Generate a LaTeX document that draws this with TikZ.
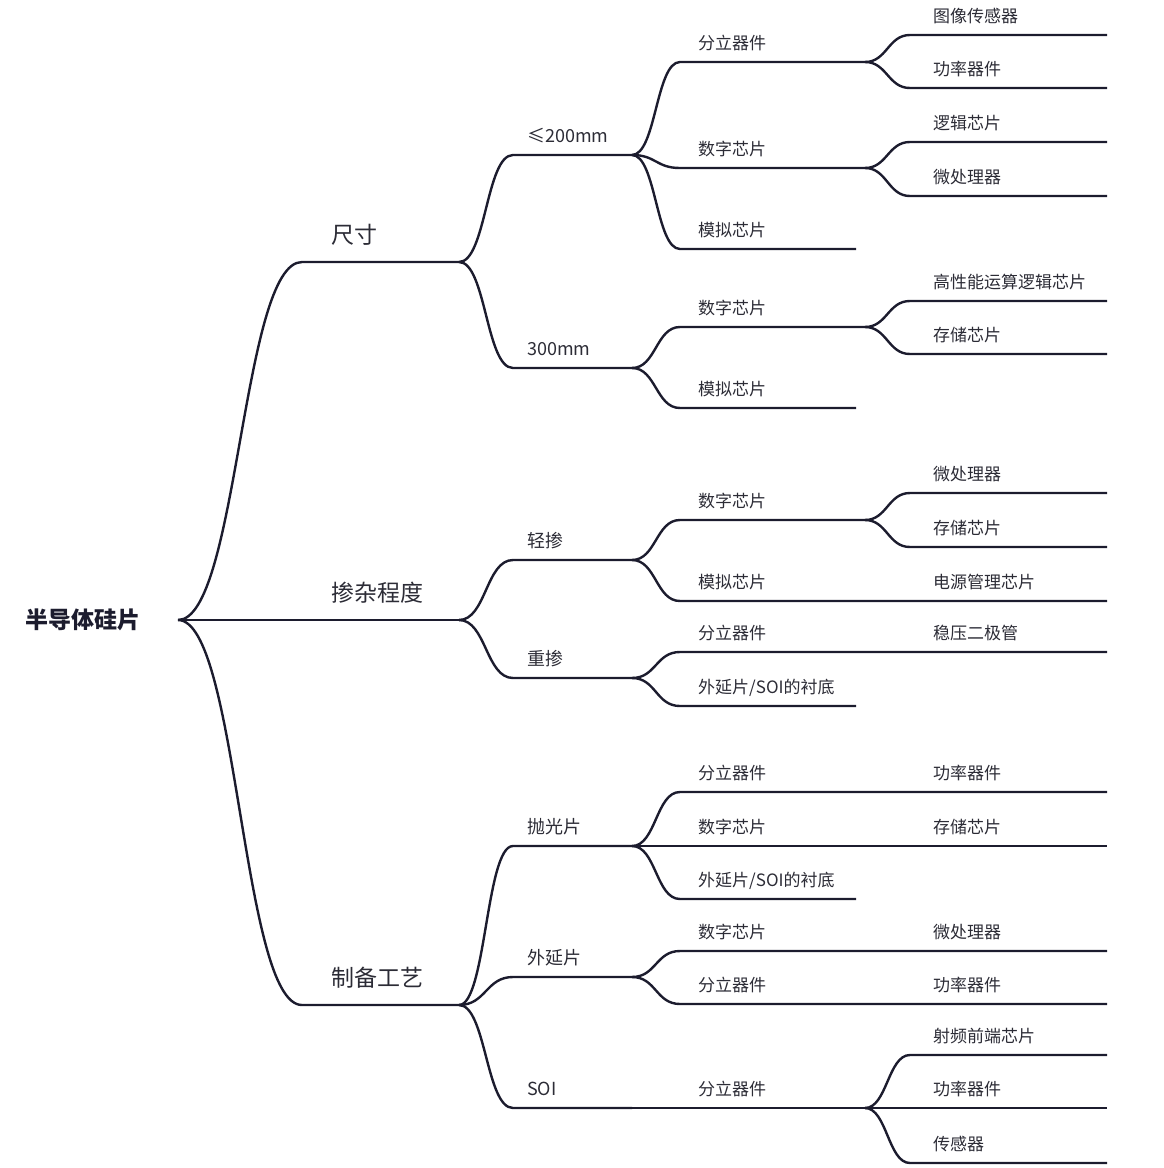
\documentclass[tikz,border=0pt]{standalone}
\usepackage{fontspec}
\newfontfamily\cjk{Noto Sans CJK SC}
\usetikzlibrary{positioning,calc}
\definecolor{inkline}{RGB}{28,28,46}
\definecolor{inktext}{RGB}{44,44,54}

\begin{document}
\begin{tikzpicture}[
    x=1pt, y=-1pt,
    rootlbl/.style={font=\cjk\bfseries\fontsize{23}{26}\selectfont, text=inkline, inner sep=0pt, anchor=west},
    lbl1/.style={font=\cjk\fontsize{23}{26}\selectfont, text=inktext, inner sep=0pt, anchor=base west},
    lbl2/.style={font=\cjk\fontsize{18}{21}\selectfont, text=inktext, inner sep=0pt, anchor=base west},
    lbl/.style={font=\cjk\fontsize{17}{20}\selectfont, text=inktext, inner sep=0pt, anchor=base west},
    line/.style={draw=inkline, line width=2.4pt},
    limb1/.style={line, out=0, in=180, distance=60pt},
    limb2/.style={line, out=0, in=180, distance=27pt},
    limb3/.style={line, out=0, in=180, distance=24pt},
    limb4/.style={line, out=0, in=180, distance=22pt}
]
    \useasboundingbox (0,0) rectangle (1164,1168);

    % Root
    \node [rootlbl] (root) at (25,620) {半导体硅片};
    \coordinate (hub) at (178,620);

    % Level 1
    \coordinate (size-s) at (302,262);  \coordinate (size-e) at (459,262);
    \coordinate (dope-e) at (459,620);
    \coordinate (proc-s) at (302,1005); \coordinate (proc-e) at (459,1005);
    \node [lbl1] (size) at (331,243) {尺寸};
    \node [lbl1] (dope) at (331,601) {掺杂程度};
    \node [lbl1] (proc) at (331,986) {制备工艺};

    % Level 2
    \coordinate (s200-s) at (513,155);   \coordinate (s200-e) at (632,155);
    \coordinate (s300-s) at (513,368);   \coordinate (s300-e) at (632,368);
    \coordinate (light-s) at (513,560);  \coordinate (light-e) at (632,560);
    \coordinate (heavy-s) at (513,678);  \coordinate (heavy-e) at (632,678);
    \coordinate (polish-s) at (513,846); \coordinate (polish-e) at (632,846);
    \coordinate (epi-s) at (513,977);    \coordinate (epi-e) at (632,977);
    \coordinate (soi-s) at (513,1108);   \coordinate (soi-e) at (632,1108);
    \node [lbl2] (s200) at (527,142) {≤200mm};
    \node [lbl2] (s300) at (527,355) {300mm};
    \node [lbl2] (light) at (527,547) {轻掺};
    \node [lbl2] (heavy) at (527,665) {重掺};
    \node [lbl2] (polish) at (527,833) {抛光片};
    \node [lbl2] (epi) at (527,964) {外延片};
    \node [lbl2] (soi) at (527,1095) {SOI};

    % Level 3
    \coordinate (s200disc-s) at (680,62);    \coordinate (s200disc-e) at (865,62);
    \coordinate (s200dig-s) at (680,168);    \coordinate (s200dig-e) at (865,168);
    \coordinate (s200ana-s) at (680,249);    \coordinate (s200ana-e) at (856,249);
    \coordinate (s300dig-s) at (680,327);    \coordinate (s300dig-e) at (865,327);
    \coordinate (s300ana-s) at (680,408);    \coordinate (s300ana-e) at (856,408);
    \coordinate (lightdig-s) at (680,520);   \coordinate (lightdig-e) at (865,520);
    \coordinate (lightana-s) at (680,601);   \coordinate (lightana-e) at (1107,601);
    \coordinate (heavydisc-s) at (680,652);  \coordinate (heavydisc-e) at (1107,652);
    \coordinate (heavysub-s) at (680,706);   \coordinate (heavysub-e) at (856,706);
    \coordinate (polishdisc-s) at (680,792); \coordinate (polishdisc-e) at (1107,792);
    \coordinate (polishdig-s) at (680,846);  \coordinate (polishdig-e) at (1107,846);
    \coordinate (polishsub-s) at (680,899);  \coordinate (polishsub-e) at (856,899);
    \coordinate (epidig-s) at (680,951);     \coordinate (epidig-e) at (1107,951);
    \coordinate (epidisc-s) at (680,1004);   \coordinate (epidisc-e) at (1107,1004);
    \coordinate (soidisc-s) at (680,1108);   \coordinate (soidisc-e) at (865,1108);
    \node [lbl] (s200disc) at (698,49) {分立器件};
    \node [lbl] (s200dig) at (698,155) {数字芯片};
    \node [lbl] (s200ana) at (698,236) {模拟芯片};
    \node [lbl] (s300dig) at (698,314) {数字芯片};
    \node [lbl] (s300ana) at (698,395) {模拟芯片};
    \node [lbl] (lightdig) at (698,507) {数字芯片};
    \node [lbl] (lightana) at (698,588) {模拟芯片};
    \node [lbl] (heavydisc) at (698,639) {分立器件};
    \node [lbl] (heavysub) at (698,693) {外延片/SOI的衬底};
    \node [lbl] (polishdisc) at (698,779) {分立器件};
    \node [lbl] (polishdig) at (698,833) {数字芯片};
    \node [lbl] (polishsub) at (698,886) {外延片/SOI的衬底};
    \node [lbl] (epidig) at (698,938) {数字芯片};
    \node [lbl] (epidisc) at (698,991) {分立器件};
    \node [lbl] (soidisc) at (698,1095) {分立器件};

    % Leaves
    \coordinate (img-s) at (910,35);    \coordinate (img-e) at (1107,35);
    \coordinate (pow1-s) at (910,88);   \coordinate (pow1-e) at (1107,88);
    \coordinate (logic-s) at (910,142); \coordinate (logic-e) at (1107,142);
    \coordinate (mpu1-s) at (910,196);  \coordinate (mpu1-e) at (1107,196);
    \coordinate (hpc-s) at (910,301);   \coordinate (hpc-e) at (1107,301);
    \coordinate (mem1-s) at (910,354);  \coordinate (mem1-e) at (1107,354);
    \coordinate (mpu2-s) at (910,493);  \coordinate (mpu2-e) at (1107,493);
    \coordinate (mem2-s) at (910,547);  \coordinate (mem2-e) at (1107,547);
    \coordinate (rf-s) at (910,1055);   \coordinate (rf-e) at (1107,1055);
    \coordinate (pow4-e) at (1107,1108);
    \coordinate (sens-s) at (910,1163); \coordinate (sens-e) at (1107,1163);
    \node [lbl] (img) at (933,22) {图像传感器};
    \node [lbl] (pow1) at (933,75) {功率器件};
    \node [lbl] (logic) at (933,129) {逻辑芯片};
    \node [lbl] (mpu1) at (933,183) {微处理器};
    \node [lbl] (hpc) at (933,288) {高性能运算逻辑芯片};
    \node [lbl] (mem1) at (933,341) {存储芯片};
    \node [lbl] (mpu2) at (933,480) {微处理器};
    \node [lbl] (mem2) at (933,534) {存储芯片};
    \node [lbl] (pmic) at (933,588) {电源管理芯片};
    \node [lbl] (zener) at (933,639) {稳压二极管};
    \node [lbl] (pow2) at (933,779) {功率器件};
    \node [lbl] (mem3) at (933,833) {存储芯片};
    \node [lbl] (mpu3) at (933,938) {微处理器};
    \node [lbl] (pow3) at (933,991) {功率器件};
    \node [lbl] (rf) at (933,1042) {射频前端芯片};
    \node [lbl] (pow4) at (933,1095) {功率器件};
    \node [lbl] (sens) at (933,1150) {传感器};

    % Root branches
    \draw [limb1] (hub) to (size-s) -- (size-e);
    \draw [line] (hub) -- (dope-e);
    \draw [limb1] (hub) to (proc-s) -- (proc-e);

    % Level 2 branches
    \draw [limb2] (size-e) to (s200-s) -- (s200-e);
    \draw [limb2] (size-e) to (s300-s) -- (s300-e);
    \draw [limb2] (dope-e) to (light-s) -- (light-e);
    \draw [limb2] (dope-e) to (heavy-s) -- (heavy-e);
    \draw [limb2] (proc-e) to (polish-s) -- (polish-e);
    \draw [limb2] (proc-e) to (epi-s) -- (epi-e);
    \draw [limb2] (proc-e) to (soi-s) -- (soi-e);

    % Level 3 branches
    \draw [limb3] (s200-e) to (s200disc-s) -- (s200disc-e);
    \draw [limb3] (s200-e) to (s200dig-s) -- (s200dig-e);
    \draw [limb3] (s200-e) to (s200ana-s) -- (s200ana-e);
    \draw [limb3] (s300-e) to (s300dig-s) -- (s300dig-e);
    \draw [limb3] (s300-e) to (s300ana-s) -- (s300ana-e);
    \draw [limb3] (light-e) to (lightdig-s) -- (lightdig-e);
    \draw [limb3] (light-e) to (lightana-s) -- (lightana-e);
    \draw [limb3] (heavy-e) to (heavydisc-s) -- (heavydisc-e);
    \draw [limb3] (heavy-e) to (heavysub-s) -- (heavysub-e);
    \draw [limb3] (polish-e) to (polishdisc-s) -- (polishdisc-e);
    \draw [limb3] (polish-e) to (polishdig-s) -- (polishdig-e);
    \draw [limb3] (polish-e) to (polishsub-s) -- (polishsub-e);
    \draw [limb3] (epi-e) to (epidig-s) -- (epidig-e);
    \draw [limb3] (epi-e) to (epidisc-s) -- (epidisc-e);
    \draw [limb3] (soi-e) to (soidisc-s) -- (soidisc-e);

    % Leaf branches
    \draw [limb4] (s200disc-e) to (img-s) -- (img-e);
    \draw [limb4] (s200disc-e) to (pow1-s) -- (pow1-e);
    \draw [limb4] (s200dig-e) to (logic-s) -- (logic-e);
    \draw [limb4] (s200dig-e) to (mpu1-s) -- (mpu1-e);
    \draw [limb4] (s300dig-e) to (hpc-s) -- (hpc-e);
    \draw [limb4] (s300dig-e) to (mem1-s) -- (mem1-e);
    \draw [limb4] (lightdig-e) to (mpu2-s) -- (mpu2-e);
    \draw [limb4] (lightdig-e) to (mem2-s) -- (mem2-e);
    \draw [limb4] (soidisc-e) to (rf-s) -- (rf-e);
    \draw [line] (soidisc-e) -- (pow4-e);
    \draw [limb4] (soidisc-e) to (sens-s) -- (sens-e);

\end{tikzpicture}
\end{document}
